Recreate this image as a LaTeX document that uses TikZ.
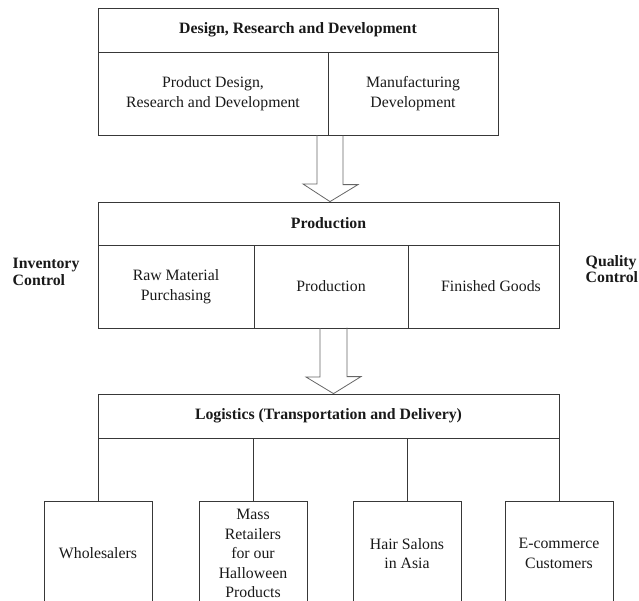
\documentclass[tikz,border=0pt]{standalone}
\usepackage{fontspec}
\setmainfont{Liberation Serif}
\begin{document}
\begin{tikzpicture}[x=1pt,y=-1pt,
  every node/.style={text=black!90},
  txt/.style={font=\fontsize{15.8}{19.5}\selectfont, align=center},
  bold/.style={font=\bfseries\fontsize{15.8}{19.5}\selectfont, align=center},
  cell/.style={draw=black!78, line width=0.8pt, inner sep=0pt, txt},
  conn/.style={draw=black!78, line width=0.8pt},
  blockarr/.style={draw=black!60, line width=0.8pt, line join=miter}
]
\clip (0,0) rectangle (639,600);
\useasboundingbox (0,0) rectangle (639,600);

% Design, Research and Development
\node[cell, bold, minimum width=400, minimum height=44] (drdhead) at (298,30) {Design, Research and Development};
\node[cell, minimum width=230, minimum height=83] (pdrd) at (213,93.5) {Product Design,\\Research and Development};
\node[cell, minimum width=170, minimum height=83] (mfg) at (413,93.5) {Manufacturing\\Development};

% Production
\node[cell, bold, minimum width=461, minimum height=43] (prodhead) at (328.5,223.5) {Production};
\node[cell, minimum width=156, minimum height=83] (raw) at (176,286.5) {Raw Material\\Purchasing};
\node[cell, minimum width=154, minimum height=83] (prod) at (331,286.5) {Production};
\node[cell, minimum width=151, minimum height=83] (fin) at (483.5,286.5) {};
\node[txt] (fintxt) at (491,286.5) {Finished Goods};

% side labels
\node[font=\bfseries\fontsize{15.8}{16.5}\selectfont, align=left, anchor=west, inner sep=0pt] (inv) at (12.5,272) {Inventory\\Control};
\node[font=\bfseries\fontsize{15.8}{16.5}\selectfont, align=left, anchor=west, inner sep=0pt] (qc) at (585.5,269) {Quality\\Control};

% Logistics
\node[cell, bold, minimum width=461, minimum height=44] (log) at (328.5,416) {Logistics (Transportation and Delivery)};

% customers
\node[cell, minimum width=108, minimum height=105] (whole) at (98,553.5) {Wholesalers};
\node[cell, minimum width=108, minimum height=105] (mass) at (253,553.5) {Mass\\Retailers\\for our\\Halloween\\Products};
\node[cell, minimum width=108, minimum height=105] (hair) at (407,553.5) {Hair Salons\\in Asia};
\node[cell, minimum width=108, minimum height=105] (ecom) at (559,553.5) {E-commerce\\Customers};

% connectors
\draw[conn] (log.south -| whole.north) -- (whole.north);
\draw[conn] (log.south -| mass.north) -- (mass.north);
\draw[conn] (log.south -| hair.north) -- (hair.north);
\draw[conn] (log.south -| ecom.north) -- (ecom.north);

% block arrows
\coordinate (a1) at (330,135);
\coordinate (t1) at (prodhead.north -| a1);
\draw[blockarr] ([xshift=-13pt]a1) -- ++(0,49) -- ++(-14,0) -- (t1) -- ++(28,-17) -- ++(-15,0) -- ++(0,-49);

\coordinate (a2) at (333.5,328);
\coordinate (t2) at (log.north -| a2);
\draw[blockarr] ([xshift=-13.5pt]a2) -- ++(0,49) -- ++(-14,0) -- (t2) -- ++(27.5,-17) -- ++(-14,0) -- ++(0,-49);
\end{tikzpicture}
\end{document}
